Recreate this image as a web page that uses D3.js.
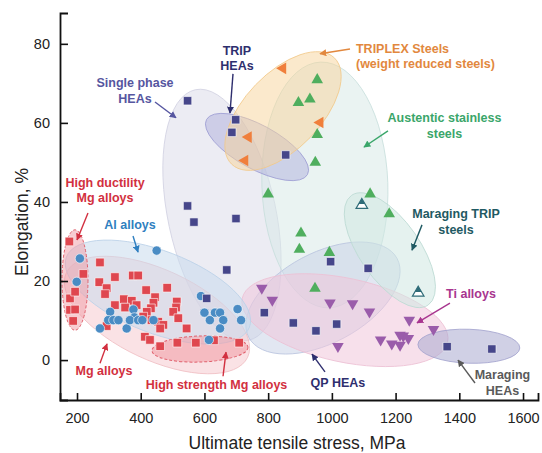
<!DOCTYPE html>
<html><head><meta charset="utf-8">
<script src="https://cdn.jsdelivr.net/npm/d3@7"></script>
<style>
body{margin:0;background:#fff}
svg{display:block;font-family:"Liberation Sans",Arial,Helvetica,sans-serif}
</style>
</head><body>
<svg id="chart" width="542" height="453"></svg>
<script>
// ---------- data (MPa, %) ----------
const xTickValues = [200, 400, 600, 800, 1000, 1200, 1400, 1600];
const yTickValues = [0, 20, 40, 60, 80];

const mgX = [176,220,272,270,293,288,319,375,392,417,483,178,194,178,194,188,347,372,387,351,319,445,440,432,419,408,513,511,502,518,434,455,471,461,293,413,429,461,544,515,573,630,709];
const mgY = [30,21.8,24.7,19.7,18.2,16.7,21,21.4,21.4,17.7,18.3,15.6,17.3,12.7,12.8,9.9,15.4,15,13.9,13.3,13.9,15.9,14.5,13.1,12.2,11,14.8,13.3,12.2,10.6,10.1,9.7,8.9,8,8.6,5.9,5.1,3.5,8,4.4,4.4,5,4.4];

const alX = [199,209,450,272,304,298,314,330,356,377,380,366,392,405,440,589,600,617,633,649,659,649,704,715,614];
const alY = [19.8,25.7,27.7,8,12.2,10.1,10.1,10.1,8,12.8,10.8,10.1,10.1,10.1,10.1,16.2,12,10.1,12,12,10.1,8,12.9,10.1,5.1];

const heaX = [547,698,686,855,547,567,699,670,607,788,879,950,1015,996,1114,1362,1502];
const heaY = [65.6,60.8,57.6,51.9,39,34.9,35.8,22.8,15.6,12,9.4,7.4,9.1,24.9,23.2,3.4,2.8];

const triplexX = [738,727,846,963];
const triplexY = [56.4,50.5,73.8,60.1];

const austX = [954,895,931,954,948,800,1120,1180,903,898,992,947];
const austY = [70.9,65.1,66,57,50,42,42,37,32.1,28,27.2,18.1];

const marTripX = [1094,1271];
const marTripY = [39.2,17];

const tiX = [780,813,994,1065,1118,1019,1243,1319,1153,1188,1214,1224,1240,1214];
const tiY = [18.2,15.2,14.5,14.3,12.2,3.5,10.1,7.8,5.1,4.1,3.8,6.1,5.5,6.3];

// ---------- region ellipses: centre (MPa, %), semi-axes (MPa, %), tilt deg ----------
const regionNames = ["single","aust","qp","ti","mg","al","trip","triplex","marTrip","marHEA","hdMg","hsMg"];
const regionCx = [655, 978, 972, 1041, 451, 454, 765, 846.6, 1182, 1430, 193.7, 586];
const regionCy = [36.7, 44.3, 15.7, 10.1, 11.4, 17.2, 53.9, 63.0, 27.8, 3.5, 20.25, 2.8];
const regionRx = [169.5, 197.7, 263.7, 329.6, 313.9, 307.6, 180.5, 232, 210, 160, 40.8, 150.7];
const regionRy = [32.4, 31.1, 11.4, 10.6, 11.4, 10.4, 5.57, 9.6, 7.6, 4.3, 12.7, 3.3];
const regionAngle = [-12, -2, -28, 12, 25, 21, 28.6, -46, 55, 2, 0, -2];

// ---------- labels ----------
const labelLines = [
  ["Single phase","HEAs"], ["TRIP","HEAs"], ["TRIPLEX Steels","(weight reduced steels)"],
  ["Austentic stainless","steels"], ["Maraging TRIP","steels"], ["Ti alloys"],
  ["Maraging","HEAs"], ["QP HEAs"], ["High strength Mg alloys"], ["Mg alloys"],
  ["High ductility","Mg alloys"], ["Al alloys"]
];
const labelX = [382, 702, 1075.7, 1353.5, 1389.6, 1436.7, 1535.5, 1019, 637.8, 284.7, 287.9, 366.4];
const labelY = [69.0, 77.2, 77.8, 60.1, 35.9, 15.6, -4.9, -6.8, -7.2, -3.8, 43.9, 33.1];
const arrowX1 = [444.8, 689.6, 1056.9, 1176.1, 1282.9, 1370.7, 1449.2, 978.4, 658.3, 272.2, 234.5, 375.8];
const arrowY1 = [65.3, 72.4, 78.7, 58, 34.2, 14.4, -5.8, -3, -4.1, -0.8, 37.2, 31.4];
const arrowX2 = [510.7, 680.2, 962.7, 1100.8, 1251.5, 1267.2, 1395.9, 937.6, 667.7, 294.2, 200, 391.5];
const arrowY2 = [61.3, 62.5, 77.5, 53.9, 27.8, 9.4, 0, 1.5, 2, 4.1, 30.4, 27.3];

// ---------- styles ----------
const regionStyle = {
  single:  {fill:"#e6e6ef", op:0.75, stroke:"#d2d2e2"},
  aust:    {fill:"#d8e9e7", op:0.55, stroke:"#c6dedb"},
  qp:      {fill:"#c6cfe6", op:0.5,  stroke:"#bcc6e0"},
  ti:      {fill:"#f1c6da", op:0.55, stroke:"#ecc0d4"},
  mg:      {fill:"#f5cbcf", op:0.55, stroke:"#f0c0c5"},
  al:      {fill:"#c8dbec", op:0.55, stroke:"#bcd2e8"},
  trip:    {fill:"#a8a8da", op:0.45, stroke:"#a0a0d4"},
  triplex: {fill:"#f8d49a", op:0.5,  stroke:"#f2c98a"},
  marTrip: {fill:"#cfe7e1", op:0.55, stroke:"#bddbd4"},
  marHEA:  {fill:"#a9a9d0", op:0.55, stroke:"#a0a0cc"},
  hdMg:    {fill:"#f09aa4", op:0.5,  stroke:"#e0606c", dash:"3,2"},
  hsMg:    {fill:"#f09aa4", op:0.55, stroke:"#e0606c", dash:"3,2"}
};
const labelColor = ["#5656a0","#2e2e6e","#e2883e","#3aa66a","#1f5a63","#a8358f","#5a5a5a","#2e2e6e","#d23040","#d23040","#d23040","#2f7fc0"];

// ---------- scales ----------
const svg = d3.select("#chart");
const x = d3.scaleLinear().domain([146.6, 1647]).range([60, 538]);
const y = d3.scaleLinear().domain([-10.1, 87.8]).range([400, 13]);
const kx = x(1) - x(0), ky = y(0) - y(1);

// ---------- regions ----------
const gReg = svg.append("g");
regionNames.forEach((n, i) => {
  const s = regionStyle[n];
  gReg.append("ellipse")
    .attr("transform", `translate(${x(regionCx[i])},${y(regionCy[i])}) rotate(${regionAngle[i]})`)
    .attr("rx", regionRx[i] * kx).attr("ry", regionRy[i] * ky)
    .attr("fill", s.fill).attr("fill-opacity", s.op)
    .attr("stroke", s.stroke).attr("stroke-width", s.dash ? 1 : 0.8)
    .attr("stroke-dasharray", s.dash || null);
});

// ---------- axes ----------
const xAxis = svg.append("g").attr("transform", `translate(0,${y(-10.1)})`)
  .call(d3.axisBottom(x).tickValues(xTickValues).tickFormat(d3.format("d")).tickSize(-7).tickPadding(13));
const yAxis = svg.append("g").attr("transform", `translate(${x(146.6)},0)`)
  .call(d3.axisLeft(y).tickValues(yTickValues).tickFormat(d3.format("d")).tickSize(-8).tickPadding(10));
[xAxis, yAxis].forEach(a => {
  a.select(".domain").attr("stroke", "#111").attr("stroke-width", 1.8);
  a.selectAll(".tick line").attr("stroke", "#111").attr("stroke-width", 1.6);
  a.selectAll(".tick text").attr("font-size", 14.5).attr("fill", "#222")
    .attr("font-family", '"Liberation Sans",Arial,sans-serif');
});

svg.append("text").attr("x", 297).attr("y", 449).attr("text-anchor", "middle")
  .attr("font-size", 17.5).attr("fill", "#222").text("Ultimate tensile stress, MPa");
svg.append("text").attr("transform", "translate(28,222) rotate(-90)").attr("text-anchor", "middle")
  .attr("font-size", 17.5).attr("fill", "#222").text("Elongation, %");

// ---------- points ----------
const gPts = svg.append("g");
function plot(xs, ys, type, size, fill, rot, stroke, sw) {
  return gPts.selectAll(null).data(xs.map((v, i) => [v, ys[i]])).enter().append("path")
    .attr("d", d3.symbol().type(type).size(size)())
    .attr("transform", d => `translate(${x(d[0])},${y(d[1])}) rotate(${rot})`)
    .attr("fill", fill).attr("stroke", stroke || "none").attr("stroke-width", sw || 0);
}
plot(mgX, mgY, d3.symbolSquare, 74, "#df474f", 0, "#ffffff", 0.6);
plot(alX, alY, d3.symbolCircle, 68, "#4a8cc4", 0, "#ffffff", 0.6);
plot(heaX, heaY, d3.symbolSquare, 70, "#46468a", 0, "#ffffff", 0.6);
plot(triplexX, triplexY, d3.symbolTriangle, 58, "#f07f3c", -90);
plot(austX, austY, d3.symbolTriangle, 58, "#4fae5e", 0);
plot(tiX, tiY, d3.symbolTriangle, 58, "#9a5caa", 180);

const defs = svg.append("defs");
const grad = defs.append("linearGradient").attr("id", "half").attr("x1", 0).attr("y1", 0).attr("x2", 0).attr("y2", 1);
grad.append("stop").attr("offset", "55%").attr("stop-color", "#2f6c78");
grad.append("stop").attr("offset", "55%").attr("stop-color", "#ffffff");
plot(marTripX, marTripY, d3.symbolTriangle, 58, "url(#half)", 0, "#2f6c78", 1.2);

// ---------- labels & arrows ----------
const gLab = svg.append("g");
labelLines.forEach((lines, i) => {
  const c = labelColor[i];
  const id = "ah" + i;
  defs.append("marker").attr("id", id).attr("viewBox", "0 0 10 10").attr("refX", 9).attr("refY", 5)
    .attr("markerWidth", 7).attr("markerHeight", 7).attr("markerUnits", "userSpaceOnUse").attr("orient", "auto")
    .append("path").attr("d", "M0,0 L10,5 L0,10 z").attr("fill", c);
  gLab.append("line")
    .attr("x1", x(arrowX1[i])).attr("y1", y(arrowY1[i]))
    .attr("x2", x(arrowX2[i])).attr("y2", y(arrowY2[i]))
    .attr("stroke", c).attr("stroke-width", 1.4).attr("marker-end", `url(#${id})`);
  const anchor = i === 2 ? "start" : "middle";
  const t = gLab.append("text").attr("x", x(labelX[i])).attr("y", y(labelY[i]))
    .attr("text-anchor", anchor).attr("font-size", 12.5).attr("font-weight", "bold").attr("fill", c);
  lines.forEach((ln, j) => t.append("tspan").attr("x", x(labelX[i])).attr("dy", j ? 15.5 : 0).text(ln));
});
</script>
</body></html>
